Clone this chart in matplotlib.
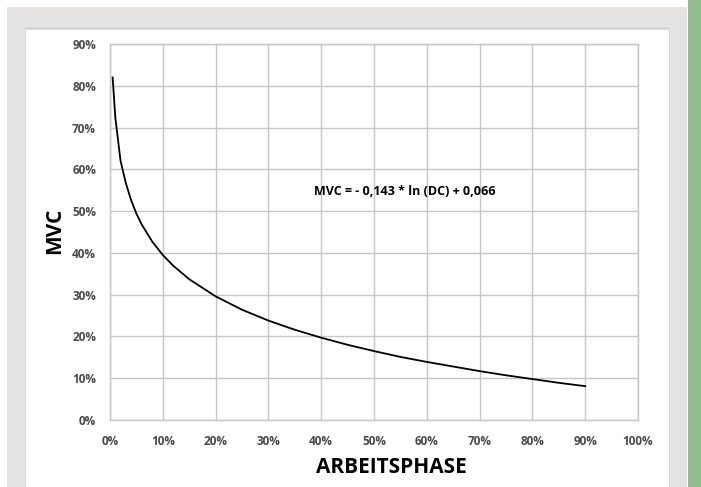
import matplotlib
matplotlib.use('Agg')
import matplotlib.pyplot as plt
from matplotlib.patches import Rectangle
from matplotlib.ticker import PercentFormatter, MultipleLocator

plt.rcParams['font.family'] = ['Open Sans', 'DejaVu Sans']

# Werte (Arbeitsphase DC -> MVC)
dc = [0.005, 0.01, 0.02, 0.03, 0.04, 0.05, 0.06, 0.08, 0.10, 0.12, 0.15,
      0.20, 0.25, 0.30, 0.35, 0.40, 0.45, 0.50, 0.55, 0.60, 0.65, 0.70,
      0.75, 0.80, 0.85, 0.90]
mvc = [0.82, 0.725, 0.62, 0.567, 0.526, 0.494, 0.468, 0.427, 0.395, 0.369,
       0.337, 0.296, 0.264, 0.238, 0.216, 0.197, 0.180, 0.165, 0.151, 0.139,
       0.128, 0.117, 0.107, 0.098, 0.089, 0.081]
formel = 'MVC = - 0,143 * ln (DC) + 0,066'

W, H = 701, 487
fig = plt.figure(figsize=(W / 100, H / 100), dpi=100)
fig.patch.set_facecolor('white')

# Rahmen
def rahmen(x, y, w, h, farbe):
    fig.patches.append(Rectangle((x / W, y / H), w / W, h / H, transform=fig.transFigure,
                                 facecolor=farbe, edgecolor='none', zorder=-5))

rahmen(7, 0, 680, 480, '#e6e4e2')
rahmen(25, 0, 645, 460, '#d8d8d8')
rahmen(26, 0, 643, 457, 'white')
rahmen(688, 0, 13, 487, '#8fbf8c')

x0, x1, y0, y1 = 110, 638, 44, 420
ax = fig.add_axes([x0 / W, (H - y1) / H, (x1 - x0) / W, (y1 - y0) / H])
ax.set_zorder(2)
ax.plot(dc, mvc, color='black', lw=1.3, zorder=3)

ax.set_xlim(0, 1)
ax.set_ylim(0, 0.9)
ax.xaxis.set_major_locator(MultipleLocator(0.1))
ax.yaxis.set_major_locator(MultipleLocator(0.1))
ax.xaxis.set_major_formatter(PercentFormatter(1.0, decimals=0))
ax.yaxis.set_major_formatter(PercentFormatter(1.0, decimals=0))
ax.grid(True, color='#c6c6c6', lw=1)
ax.set_axisbelow(True)
for s in ax.spines.values():
    s.set_color('#c6c6c6')
    s.set_linewidth(1)
ax.tick_params(length=0, labelsize=8.5, labelcolor='#4a4a4a', pad=10)
for lab in ax.get_xticklabels() + ax.get_yticklabels():
    lab.set_fontweight('bold')
ax.tick_params(axis='x', pad=11)

ax.text(0.559, 0.548, formel, fontsize=9, fontweight='bold', ha='center', va='center')

ax.set_xlabel('ARBEITSPHASE', fontsize=15, fontweight='bold')
ax.xaxis.set_label_coords((391 - x0) / (x1 - x0), -(457 - y1) / (y1 - y0), transform=ax.transAxes)
ax.xaxis.label.set_va('top')
ax.set_ylabel('MVC', fontsize=15, fontweight='bold')
ax.yaxis.set_label_coords(-(x0 - 55) / (x1 - x0), (y1 - 231) / (y1 - y0))
ax.yaxis.label.set_va('center')

fig.savefig('out.png', dpi=100)
